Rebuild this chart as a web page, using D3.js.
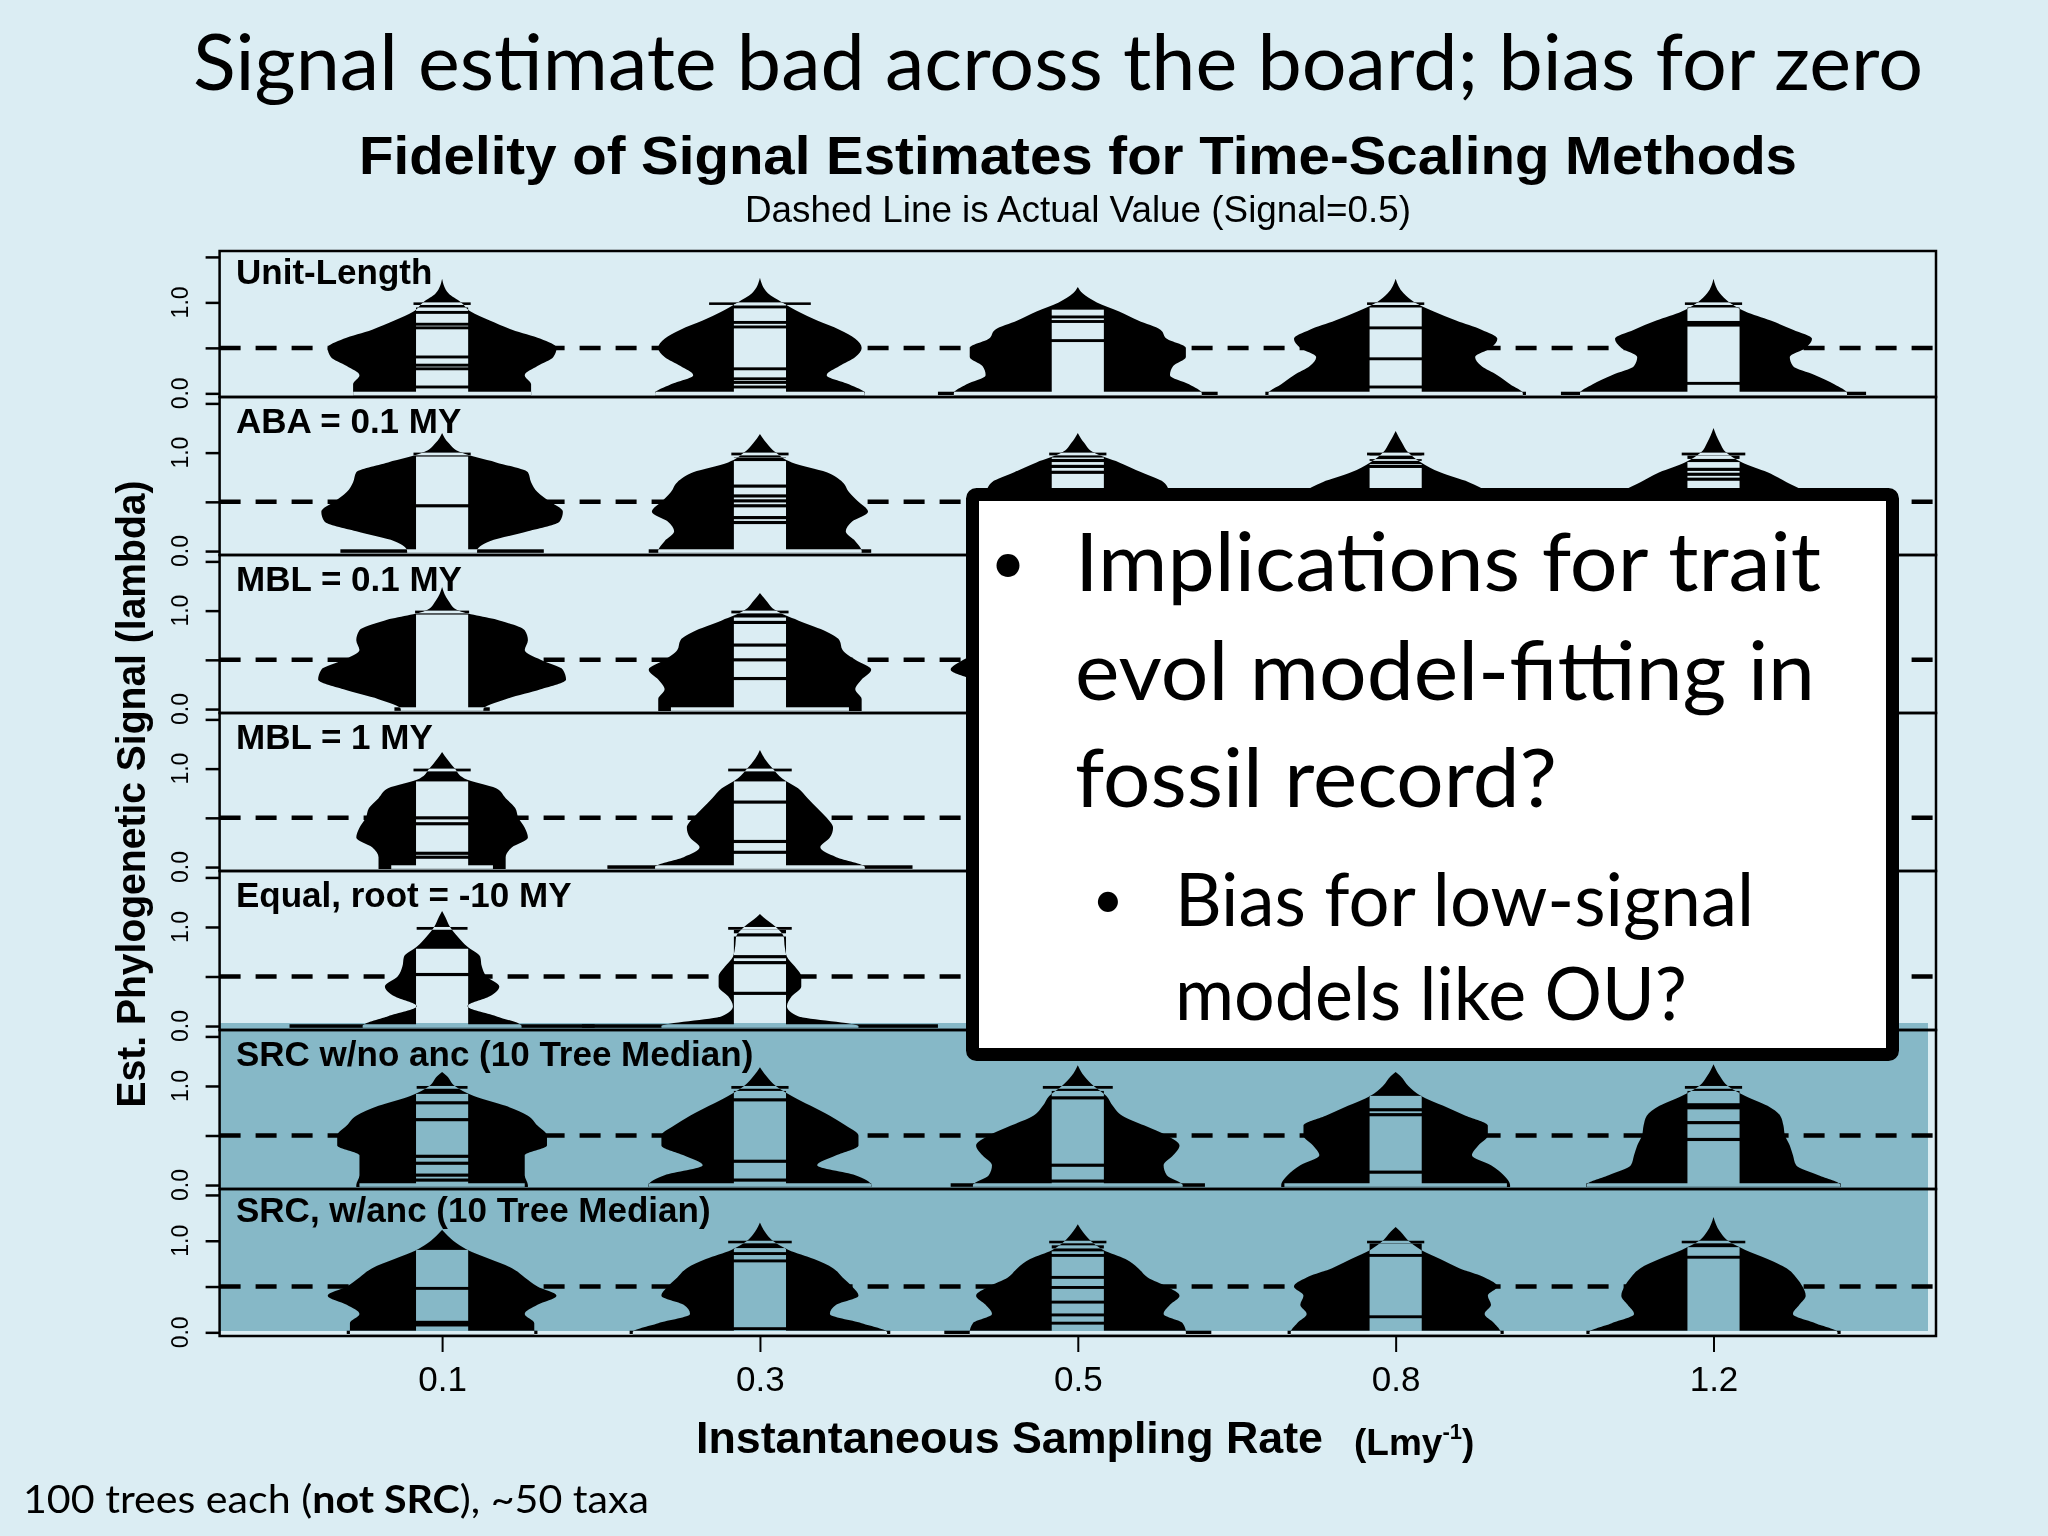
<!DOCTYPE html>
<html>
<head>
<meta charset="utf-8">
<script src="https://cdn.jsdelivr.net/npm/d3@7"></script>
<style>
html, body { margin: 0; padding: 0; background: #dbedf3; }
svg { display: block; }
</style>
</head>
<body>
<svg id="chart" width="2048" height="1536"></svg>
<script>
// Sampling rates on the x axis and the time-scaling methods (one panel each)
var rates = ["0.1", "0.3", "0.5", "0.8", "1.2"];
var methods = ["Unit-Length", "ABA = 0.1 MY", "MBL = 0.1 MY", "MBL = 1 MY",
               "Equal, root = -10 MY", "SRC w/no anc (10 Tree Median)", "SRC, w/anc (10 Tree Median)"];

// signal values where the bean half-widths are read
var levels = [0, 0.1, 0.2, 0.3, 0.4, 0.5, 0.6, 0.7, 0.8, 0.9, 1.0, 1.1];

// bean half-widths (x category units) at each level; null = bean hidden behind the callout
var widthUnitLength = [
  [0.28, 0.28, 0.26, 0.30, 0.35, 0.36, 0.31, 0.22, 0.15, 0.09, 0.06, 0.02],
  [0.33, 0.28, 0.21, 0.25, 0.30, 0.32, 0.30, 0.25, 0.18, 0.12, 0.07, 0.025],
  [0.39, 0.35, 0.29, 0.30, 0.34, 0.34, 0.28, 0.26, 0.19, 0.13, 0.06, 0.015],
  [0.40, 0.36, 0.32, 0.27, 0.25, 0.30, 0.32, 0.27, 0.19, 0.12, 0.06, 0.025],
  [0.42, 0.38, 0.32, 0.25, 0.24, 0.29, 0.31, 0.25, 0.18, 0.10, 0.05, 0.02]
];
var widthABA = [
  [0.11, 0.15, 0.27, 0.37, 0.38, 0.34, 0.30, 0.28, 0.27, 0.17, 0.06, 0.02],
  [0.32, 0.30, 0.27, 0.29, 0.34, 0.31, 0.28, 0.26, 0.21, 0.10, 0.05, 0.02],
  [0.30, 0.28, 0.25, 0.28, 0.32, 0.31, 0.29, 0.27, 0.20, 0.13, 0.05, 0.02],
  [0.32, 0.30, 0.27, 0.28, 0.31, 0.31, 0.29, 0.23, 0.14, 0.08, 0.04, 0.02],
  [0.36, 0.33, 0.29, 0.28, 0.30, 0.31, 0.29, 0.23, 0.17, 0.09, 0.04, 0.02]
];
var widthMBL01 = [
  [0.13, 0.20, 0.31, 0.39, 0.38, 0.31, 0.26, 0.27, 0.26, 0.18, 0.05, 0.02],
  [0.32, 0.32, 0.30, 0.32, 0.35, 0.30, 0.26, 0.25, 0.20, 0.12, 0.05, 0.02],
  [0.30, 0.28, 0.27, 0.33, 0.40, 0.36, 0.30, 0.26, 0.20, 0.12, 0.05, 0.02],
  null, null
];
var widthMBL1 = [
  [0.20, 0.20, 0.22, 0.27, 0.26, 0.24, 0.23, 0.20, 0.17, 0.07, 0.04, 0.015],
  [0.33, 0.24, 0.19, 0.22, 0.23, 0.21, 0.18, 0.15, 0.12, 0.07, 0.04, 0.015],
  null, null, null
];
var widthEqual = [
  [0.25, 0.17, 0.08, 0.15, 0.18, 0.14, 0.125, 0.12, 0.08, 0.05, 0.025, 0.01],
  [0.31, 0.12, 0.085, 0.10, 0.13, 0.13, 0.11, 0.085, 0.078, 0.075, 0.05, 0.01],
  null, null, null
];
var widthSRCnoAnc = [
  [0.27, 0.26, 0.26, 0.26, 0.33, 0.33, 0.30, 0.27, 0.20, 0.10, 0.04, 0.015],
  [0.35, 0.30, 0.18, 0.24, 0.31, 0.31, 0.27, 0.22, 0.16, 0.10, 0.05, 0.02],
  [0.33, 0.28, 0.27, 0.30, 0.32, 0.28, 0.21, 0.14, 0.11, 0.09, 0.05, 0.02],
  [0.36, 0.34, 0.30, 0.24, 0.26, 0.29, 0.29, 0.22, 0.15, 0.08, 0.04, 0.015],
  [0.40, 0.33, 0.26, 0.25, 0.24, 0.225, 0.22, 0.21, 0.17, 0.10, 0.045, 0.02]
];
var widthSRCanc = [
  [0.29, 0.29, 0.26, 0.30, 0.36, 0.30, 0.26, 0.22, 0.15, 0.08, 0.035, 0.005],
  [0.40, 0.32, 0.22, 0.24, 0.31, 0.29, 0.26, 0.23, 0.17, 0.09, 0.04, 0.015],
  [0.34, 0.33, 0.27, 0.29, 0.32, 0.28, 0.22, 0.19, 0.15, 0.08, 0.04, 0.015],
  [0.33, 0.31, 0.28, 0.30, 0.29, 0.32, 0.28, 0.20, 0.14, 0.08, 0.04, 0.015],
  [0.39, 0.32, 0.25, 0.27, 0.29, 0.28, 0.26, 0.23, 0.17, 0.10, 0.045, 0.02]
];

// top of each bean's spike
var tipUnitLength = [1.26, 1.27, 1.17, 1.26, 1.26];
var tipABA        = [1.20, 1.19, 1.20, 1.22, 1.25];
var tipMBL01      = [1.24, 1.18, 1.18];
var tipMBL1       = [1.17, 1.19];
var tipEqual      = [1.16, 1.13];
var tipSRCnoAnc   = [1.14, 1.19, 1.21, 1.14, 1.22];
var tipSRCanc     = [1.12, 1.20, 1.18, 1.15, 1.26];

// highest densely observed value (bean lines form a solid band up to here)
var topUnitLength = [0.985, 0.985, 0.92, 0.985, 0.985];
var topABA        = [0.96, 0.95, 0.95, 0.97, 0.97];
var topMBL01      = [0.96, 0.93, 0.95];
var topMBL1       = [0.87, 0.87];
var topEqual      = [0.78, 0.97];
var topSRCnoAnc   = [0.92, 0.95, 0.95, 0.90, 0.95];
var topSRCanc     = [0.90, 0.92, 0.95, 0.97, 0.93];

// values with no observations inside the band (show as black lines)
var gapsUnitLength = [[0.07, 0.27, 0.31, 0.40, 0.72, 0.76, 0.89, 0.96], [0.07, 0.12, 0.16, 0.27, 0.73, 0.78, 0.95],
                      [0.58, 0.79, 0.84], [0.07, 0.38, 0.72, 0.96], [0.11, 0.75, 0.78, 0.96]];
var gapsABA        = [[0.46], [0.29, 0.34, 0.46, 0.51, 0.56, 0.66, 0.93], [0.80, 0.86, 0.92],
                      [0.86, 0.90, 0.95], [0.73, 0.78, 0.83, 0.92]];
var gapsMBL01      = [[], [0.31, 0.50, 0.65, 0.88], [0.50]];
var gapsMBL1       = [[0.10, 0.14, 0.44, 0.50], [0.15, 0.26, 0.66]];
var gapsEqual      = [[0.52], [0.33, 0.64, 0.70, 0.92]];
var gapsSRCnoAnc   = [[0.05, 0.10, 0.22, 0.29, 0.66, 0.83], [0.05, 0.24, 0.86], [0.04, 0.20, 0.88],
                      [0.13, 0.71, 0.76], [0.46, 0.63, 0.78, 0.81]];
var gapsSRCanc     = [[0.08, 0.11, 0.48], [0.04, 0.78, 0.86], [0.10, 0.19, 0.33, 0.49, 0.60, 0.84, 0.90],
                      [0.17, 0.84], [0.82]];

// half-length of the bean line at exactly 0 and at 1 (many identical values)
var zeroUnitLength = [0.28, 0.33, 0.44, 0.41, 0.48];
var zeroABA        = [0.32, 0.35, 0.35, 0.35, 0.35];
var zeroMBL01      = [0.15, 0.28, 0.30];
var zeroMBL1       = [0.16, 0.48];
var zeroEqual      = [0.48, 0.56];
var zeroSRCnoAnc   = [0.26, 0.35, 0.40, 0.35, 0.40];
var zeroSRCanc     = [0.30, 0.41, 0.42, 0.34, 0.40];

var oneUnitLength = [0.09, 0.16, 0, 0.09, 0.09];
var oneABA        = [0.09, 0.09, 0.09, 0.09, 0.10];
var oneMBL01      = [0.085, 0.09, 0.09];
var oneMBL1       = [0.09, 0.10];
var oneEqual      = [0.08, 0.10];
var oneSRCnoAnc   = [0.08, 0.09, 0.11, 0, 0.09];
var oneSRCanc     = [0, 0.10, 0.09, 0.09, 0.10];

var panels = [
  {w: widthUnitLength, tip: tipUnitLength, top: topUnitLength, gaps: gapsUnitLength, zero: zeroUnitLength, one: oneUnitLength},
  {w: widthABA,        tip: tipABA,        top: topABA,        gaps: gapsABA,        zero: zeroABA,        one: oneABA},
  {w: widthMBL01,      tip: tipMBL01,      top: topMBL01,      gaps: gapsMBL01,      zero: zeroMBL01,      one: oneMBL01},
  {w: widthMBL1,       tip: tipMBL1,       top: topMBL1,       gaps: gapsMBL1,       zero: zeroMBL1,       one: oneMBL1},
  {w: widthEqual,      tip: tipEqual,      top: topEqual,      gaps: gapsEqual,      zero: zeroEqual,      one: oneEqual},
  {w: widthSRCnoAnc,   tip: tipSRCnoAnc,   top: topSRCnoAnc,   gaps: gapsSRCnoAnc,   zero: zeroSRCnoAnc,   one: oneSRCnoAnc},
  {w: widthSRCanc,     tip: tipSRCanc,     top: topSRCanc,     gaps: gapsSRCanc,     zero: zeroSRCanc,     one: oneSRCanc}
];

var bg = "#dbedf3";
var arial = "'Liberation Sans', Arial, sans-serif";
var calibri = "Lato, 'Open Sans', sans-serif";
var svg = d3.select("#chart");
var defs = svg.append("defs");

svg.append("rect").attr("width", 2048).attr("height", 1536).attr("fill", bg);

var plotLeft = 219.6, plotRight = 1936;
var edges = [251, 397, 555, 713, 871, 1030, 1189, 1336];
var beanLine = 0.082; // half-length of one bean line

var x = d3.scaleLinear().domain([0.3, 5.7]).range([plotLeft, plotRight]);

// bean lines: the dense band split at the gaps, plus the long lines at 0 and 1
function beanBands(top, gaps, zero, one) {
  var bands = [], start = 0;
  gaps.forEach(function(g) {
    bands.push({lo: start, hi: g - 0.016, w: beanLine});
    start = g + 0.016;
  });
  bands.push({lo: start, hi: top, w: beanLine});
  bands.push({lo: -0.018, hi: 0.018, w: zero});
  if (one > 0) bands.push({lo: 0.972, hi: 1.0, w: one});
  return bands;
}

panels.forEach(function(pn, p) {
  var y = d3.scaleLinear().domain([-0.04, 1.565]).range([edges[p + 1], edges[p]]);
  var g = svg.append("g");

  // actual value
  g.append("line")
      .attr("x1", plotLeft).attr("x2", plotRight)
      .attr("y1", y(0.5)).attr("y2", y(0.5))
      .attr("stroke", "#000").attr("stroke-width", 4.5)
      .attr("stroke-dasharray", "21 15");

  pn.w.forEach(function(wd, i) {
    if (!wd) return;
    var c = i + 1;
    var pts = [{v: pn.tip[i], w: 0}];
    for (var k = levels.length - 1; k >= 0; k--) pts.push({v: levels[k], w: wd[k]});
    pts.push({v: -0.02, w: wd[0]});

    var area = d3.area()
        .curve(d3.curveMonotoneY)
        .y(function(d) { return y(d.v); })
        .x0(function(d) { return x(c - d.w); })
        .x1(function(d) { return x(c + d.w); });

    var id = "bean" + p + "_" + i;
    defs.append("clipPath").attr("id", id).append("path").attr("d", area(pts));

    g.append("path").attr("d", area(pts)).attr("fill", "#000");

    var bands = beanBands(pn.top[i], pn.gaps[i], pn.zero[i], pn.one[i]);
    // lines outside the bean are black, inside they take the background colour
    g.append("g").selectAll("rect").data(bands).join("rect")
        .attr("x", function(d) { return x(c - d.w); })
        .attr("width", function(d) { return x(c + d.w) - x(c - d.w); })
        .attr("y", function(d) { return y(d.hi); })
        .attr("height", function(d) { return y(d.lo) - y(d.hi); })
        .attr("fill", "#000");
    g.append("g").attr("clip-path", "url(#" + id + ")")
      .selectAll("rect").data(bands).join("rect")
        .attr("x", function(d) { return x(c - d.w); })
        .attr("width", function(d) { return x(c + d.w) - x(c - d.w); })
        .attr("y", function(d) { return y(d.hi); })
        .attr("height", function(d) { return y(d.lo) - y(d.hi); })
        .attr("fill", bg);
  });

  // panel box
  g.append("rect")
      .attr("x", plotLeft).attr("y", edges[p])
      .attr("width", plotRight - plotLeft).attr("height", edges[p + 1] - edges[p])
      .attr("fill", "none").attr("stroke", "#000").attr("stroke-width", 2.5);

  // y axis
  var ya = g.append("g").attr("transform", "translate(" + plotLeft + ",0)")
      .call(d3.axisLeft(y).tickValues([0, 0.5, 1, 1.5]).tickSize(14).tickFormat(""));
  ya.select(".domain").remove();
  ya.selectAll("line").attr("stroke-width", 2.5);

  [0, 1].forEach(function(v) {
    g.append("text")
        .attr("transform", "translate(188," + y(v) + ") rotate(-90)")
        .attr("text-anchor", "middle")
        .attr("font-family", arial).attr("font-size", 23)
        .text(v.toFixed(1));
  });

  g.append("text")
      .attr("x", 236).attr("y", y(1.2))
      .attr("font-family", arial).attr("font-weight", "bold").attr("font-size", 35)
      .text(methods[p]);
});

// x axis
var xa = svg.append("g").attr("transform", "translate(0," + edges[7] + ")")
    .call(d3.axisBottom(x).tickValues([1, 2, 3, 4, 5]).tickSize(16).tickPadding(14)
      .tickFormat(function(d, i) { return rates[i]; }));
xa.select(".domain").remove();
xa.selectAll("line").attr("stroke-width", 2);
xa.selectAll("text").attr("font-family", arial).attr("font-size", 35).attr("fill", "#000");

// highlight of the SRC panels
svg.append("rect")
    .attr("x", plotLeft).attr("y", 1023)
    .attr("width", 1928 - plotLeft).attr("height", 1331 - 1023)
    .attr("fill", "#9cc6d1")
    .style("mix-blend-mode", "multiply");

// callout
svg.append("rect")
    .attr("x", 972.5).attr("y", 494.5).attr("width", 920).attr("height", 560).attr("rx", 4)
    .attr("fill", "#fff").attr("stroke", "#000").attr("stroke-width", 13);

function txt(s, xp, yp, size, opts) {
  opts = opts || {};
  var t = svg.append("text")
      .attr("x", xp).attr("y", yp)
      .attr("font-family", opts.family || calibri)
      .attr("font-size", size)
      .attr("font-weight", opts.weight || "normal")
      .attr("text-anchor", opts.anchor || "start")
      .attr("fill", "#000")
      .text(s);
  if (opts.len) t.attr("textLength", opts.len).attr("lengthAdjust", "spacingAndGlyphs");
  return t;
}

txt("\u2022", 1008, 584, 62, {anchor: "middle"});
txt("Implications for trait", 1075, 591, 82, {len: 746});
txt("evol model-fitting in", 1075, 700, 82, {len: 740});
txt("fossil record?", 1075, 807, 82, {len: 482});
txt("\u2022", 1108, 918, 54, {anchor: "middle"});
txt("Bias for low-signal", 1175, 926, 74, {len: 579});
txt("models like OU?", 1175, 1020, 74, {len: 512});

// titles
txt("Signal estimate bad across the board; bias for zero", 193, 90, 77, {len: 1730});
txt("Fidelity of Signal Estimates for Time-Scaling Methods", 359, 174, 54,
    {family: arial, weight: "bold", len: 1438});
txt("Dashed Line is Actual Value (Signal=0.5)", 745, 222, 36, {family: arial, len: 666});

// axis titles
svg.append("text")
    .attr("transform", "translate(145,794) rotate(-90)")
    .attr("text-anchor", "middle")
    .attr("font-family", arial).attr("font-weight", "bold").attr("font-size", 40)
    .attr("textLength", 627).attr("lengthAdjust", "spacingAndGlyphs")
    .text("Est. Phylogenetic Signal (lambda)");

txt("Instantaneous Sampling Rate", 696, 1453, 45, {family: arial, weight: "bold", len: 627});
var unit = svg.append("text")
    .attr("x", 1354).attr("y", 1455)
    .attr("font-family", arial).attr("font-weight", "bold").attr("font-size", 37);
unit.append("tspan").text("(Lmy");
unit.append("tspan").attr("font-size", 22).attr("dy", -16).text("-1");
unit.append("tspan").attr("dy", 16).text(")");

// footnote
var foot = svg.append("text")
    .attr("x", 23).attr("y", 1513)
    .attr("font-family", calibri).attr("font-size", 39)
    .attr("textLength", 626).attr("lengthAdjust", "spacingAndGlyphs");
foot.append("tspan").text("100 trees each (");
foot.append("tspan").attr("font-weight", "bold").text("not SRC");
foot.append("tspan").text("), ~50 taxa");
</script>
</body>
</html>
